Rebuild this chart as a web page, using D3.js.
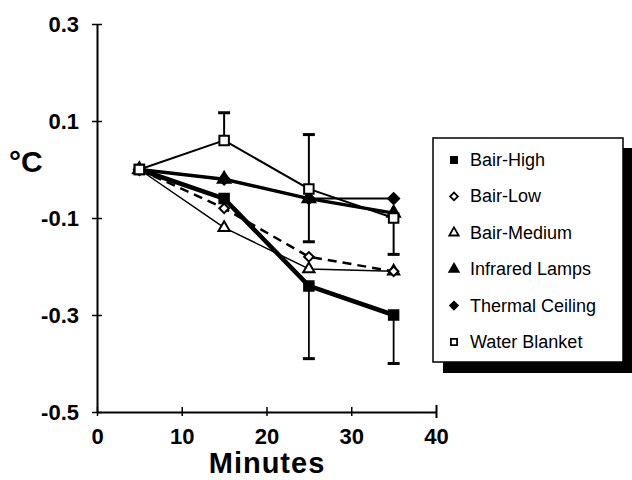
<!DOCTYPE html>
<html>
<head>
<meta charset="utf-8">
<script src="https://cdn.jsdelivr.net/npm/d3@7"></script>
<style>
  html, body { margin: 0; padding: 0; background: #fff; }
  svg { display: block; }
  text { font-family: "Liberation Sans", Arial, Helvetica, sans-serif; fill: #000; }
</style>
</head>
<body>
<svg id="chart" width="632" height="480"></svg>
<script>
// ---- data ----
const minutes = [5, 15, 25, 35];
const seriesNames = ["Bair-High", "Bair-Low", "Bair-Medium", "Infrared Lamps", "Thermal Ceiling", "Water Blanket"];
const bairHigh = [0, -0.06, -0.24, -0.30];
const bairLow = [0, -0.08, -0.18, -0.21];
const bairMedium = [0, -0.12, -0.205, -0.21];
const infraredLamps = [0, -0.02, -0.06, -0.09];
const thermalCeiling = [0, -0.02, -0.06, -0.06];
const waterBlanket = [0, 0.06, -0.04, -0.10];
// error bars: [series, minute, low, high]
const errorBars = [
  ["Water Blanket", 15, 0.06, 0.117],
  ["Water Blanket", 25, -0.149, 0.072],
  ["Water Blanket", 35, -0.175, -0.10],
  ["Bair-High", 25, -0.39, -0.24],
  ["Bair-High", 35, -0.40, -0.30]
];
const xTicks = [0, 10, 20, 30, 40];
const yTicks = [0.3, 0.1, -0.1, -0.3, -0.5];
const xTitle = "Minutes";
const yTitle = "°C";

const valuesByName = {
  "Bair-High": bairHigh, "Bair-Low": bairLow, "Bair-Medium": bairMedium,
  "Infrared Lamps": infraredLamps, "Thermal Ceiling": thermalCeiling, "Water Blanket": waterBlanket
};
const styleByName = {
  "Bair-High":       { width: 4.5, dash: null,  sym: "square",   fill: true,  size: 90 },
  "Bair-Low":        { width: 2.5, dash: "9,6", sym: "diamond",  fill: false, size: 45 },
  "Bair-Medium":     { width: 1.5, dash: null,  sym: "triangle", fill: false, size: 55 },
  "Infrared Lamps":  { width: 3.5, dash: null,  sym: "triangle", fill: true,  size: 70 },
  "Thermal Ceiling": { width: 2,   dash: null,  sym: "diamond",  fill: true,  size: 60 },
  "Water Blanket":   { width: 2,   dash: null,  sym: "square",   fill: false, size: 90 }
};
const symTypes = { square: d3.symbolSquare, diamond: d3.symbolSquare, triangle: d3.symbolTriangle };
const rot = s => s === "diamond" ? " rotate(45)" : "";
const fmtY = d => d3.format(".1f")(d).replace("\u2212", "-");

const svg = d3.select("#chart");
const x = d3.scaleLinear().domain([0, 40]).range([97, 436]);
const y = d3.scaleLinear().domain([-0.5, 0.3]).range([412, 24]);

// ---- axes ----
const xAxis = svg.append("g").attr("transform", `translate(0,${y(-0.5)})`)
  .call(d3.axisBottom(x).tickValues(xTicks).tickSizeInner(4).tickSizeOuter(0).tickPadding(12).tickFormat(d3.format("d")));
xAxis.select(".domain").attr("stroke-width", 2);
xAxis.selectAll(".tick line").attr("y1", -5).attr("y2", 4).attr("stroke-width", 1.5);
xAxis.selectAll(".tick").filter(d => d === 40).select("line").attr("y1", -7).attr("y2", 6).attr("stroke-width", 2);
xAxis.selectAll(".tick text").attr("font-size", 22).attr("font-weight", "bold")
  .attr("font-family", "Liberation Sans, Arial, sans-serif").attr("dy", "0.71em");

const yAxis = svg.append("g").attr("transform", `translate(${x(0)},0)`)
  .call(d3.axisLeft(y).tickValues(yTicks).tickSizeInner(4).tickSizeOuter(0).tickPadding(14).tickFormat(fmtY));
yAxis.select(".domain").attr("stroke-width", 2);
yAxis.selectAll(".tick line").attr("x1", -5).attr("x2", 5).attr("stroke-width", 1.5);
yAxis.selectAll(".tick text").attr("font-size", 22).attr("font-weight", "bold")
  .attr("font-family", "Liberation Sans, Arial, sans-serif");

svg.append("text").attr("x", 267).attr("y", 473).attr("text-anchor", "middle")
  .attr("font-size", 29).attr("font-weight", "bold").attr("letter-spacing", 1).text(xTitle);
svg.append("text").attr("x", 9).attr("y", 172)
  .attr("font-size", 30).attr("font-weight", "bold").text(yTitle);

// ---- lines ----
const line = d3.line().x((d, i) => x(minutes[i])).y(d => y(d));
const drawOrder = ["Bair-Medium", "Bair-Low", "Thermal Ceiling", "Infrared Lamps", "Bair-High", "Water Blanket"];

// error bars
const eb = svg.append("g");
errorBars.forEach(([name, m, lo, hi]) => {
  const idx = minutes.indexOf(m);
  const v = valuesByName[name][idx];
  const w = name === "Bair-High" ? 1.8 : 2;
  eb.append("line").attr("x1", x(m)).attr("x2", x(m)).attr("y1", y(lo)).attr("y2", y(hi))
    .attr("stroke", "#000").attr("stroke-width", w);
  [lo, hi].forEach(e => {
    if (Math.abs(e - v) > 1e-6) {
      eb.append("line").attr("x1", x(m) - 6).attr("x2", x(m) + 6).attr("y1", y(e)).attr("y2", y(e))
        .attr("stroke", "#000").attr("stroke-width", 3);
    }
  });
});

drawOrder.forEach(name => {
  const s = styleByName[name];
  svg.append("path").datum(valuesByName[name]).attr("d", line)
    .attr("fill", "none").attr("stroke", "#000").attr("stroke-width", s.width)
    .attr("stroke-dasharray", s.dash).attr("stroke-linejoin", "round");
});

// markers
drawOrder.forEach(name => {
  const s = styleByName[name];
  svg.append("g").selectAll("path").data(valuesByName[name]).join("path")
    .attr("transform", (d, i) => `translate(${x(minutes[i])},${y(d)})` + rot(s.sym))
    .attr("d", d3.symbol().type(symTypes[s.sym]).size(s.size))
    .attr("fill", s.fill ? "#000" : "#fff").attr("stroke", "#000").attr("stroke-width", 2);
});

// ---- legend ----
const lg = svg.append("g");
lg.append("rect").attr("x", 443).attr("y", 148).attr("width", 189).attr("height", 225).attr("fill", "#000");
lg.append("rect").attr("x", 433).attr("y", 138).attr("width", 190).attr("height", 224)
  .attr("fill", "#fff").attr("stroke", "#000").attr("stroke-width", 1.5);
const rowY = d3.scalePoint().domain(seriesNames).range([160, 342]);
seriesNames.forEach(name => {
  const s = styleByName[name];
  const cy = rowY(name);
  lg.append("path").attr("transform", `translate(454,${cy})` + rot(s.sym))
    .attr("d", d3.symbol().type(symTypes[s.sym]).size(s.sym === "diamond" ? 30 : 38))
    .attr("fill", s.fill ? "#000" : "#fff").attr("stroke", "#000").attr("stroke-width", 1.8);
  lg.append("text").attr("x", 470).attr("y", cy + 6).attr("font-size", 18).text(name);
});
</script>
</body>
</html>
